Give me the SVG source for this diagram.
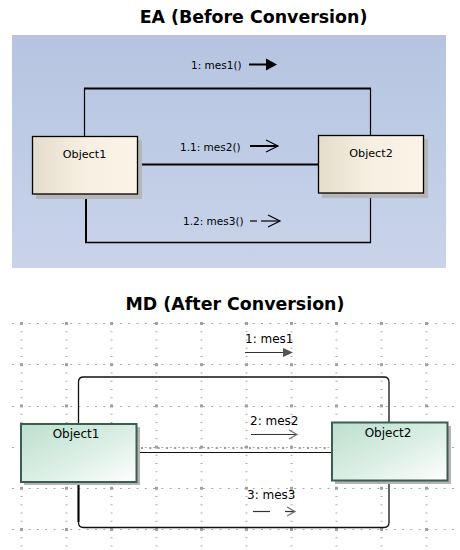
<svg xmlns="http://www.w3.org/2000/svg" width="460" height="550" viewBox="0 0 460 550">
<defs>
<linearGradient id="eaBg" x1="0" y1="0" x2="0" y2="1">
<stop offset="0" stop-color="#b6c4e1"/>
<stop offset="1" stop-color="#c9d4ea"/>
</linearGradient>
<linearGradient id="eaObj" x1="0" y1="0" x2="1" y2="0">
<stop offset="0" stop-color="#e4dccb"/>
<stop offset="0.5" stop-color="#f7efe1"/>
<stop offset="1" stop-color="#fbf3e6"/>
</linearGradient>
<linearGradient id="mdObj" x1="0" y1="0" x2="1" y2="1">
<stop offset="0" stop-color="#bcdfcd"/>
<stop offset="0.55" stop-color="#dcefe6"/>
<stop offset="1" stop-color="#ffffff"/>
</linearGradient>
<pattern id="gridDot" patternUnits="userSpaceOnUse" x="20" y="322" width="45" height="41.2">
<rect x="0" y="0" width="3" height="3" fill="#a0a0a0"/>
</pattern>
</defs>
<style>
.title{font-family:"DejaVu Sans",sans-serif;font-weight:bold;font-size:17.4px;fill:#000;text-anchor:middle}
.ealbl{font-family:"DejaVu Sans",sans-serif;font-size:10.5px;fill:#000}
.eaobjtxt{font-family:"DejaVu Sans",sans-serif;font-size:11.2px;fill:#000;text-anchor:middle}
.mdlbl{font-family:"DejaVu Sans",sans-serif;font-size:12px;fill:#000}
.mdobjtxt{font-family:"DejaVu Sans",sans-serif;font-size:12px;fill:#000;text-anchor:middle}
.eaobj{fill:url(#eaObj);stroke:#000;stroke-width:1.3}
.eashadow{fill:#b6b6b6}
.mdobj{fill:url(#mdObj);stroke:#3b5e50;stroke-width:2}
.mdshadow{fill:#b3b3b3}
.ea{fill:none;stroke:#000}
.gridrow{stroke:#aaaaaa;stroke-width:1;stroke-dasharray:2 6.3}
.gridcol{stroke:#aaaaaa;stroke-width:2;stroke-dasharray:1 7.24}
</style>

<!-- EA (Before Conversion) -->
<g id="ea-panel">
<rect x="12" y="35" width="434" height="233" fill="url(#eaBg)"/>
<text class="title" x="253.5" y="23">EA (Before Conversion)</text>
</g>

<g id="ea-connectors">
<line class="ea" x1="84.5" y1="136" x2="84.5" y2="88.5" stroke-width="1.2"/>
<line class="ea" x1="84" y1="88.5" x2="371" y2="88.5" stroke-width="2"/>
<line class="ea" x1="370.5" y1="88.5" x2="370.5" y2="135" stroke-width="1.2"/>
<line class="ea" x1="138" y1="164.5" x2="318" y2="164.5" stroke-width="2"/>
<line class="ea" x1="86" y1="194" x2="86" y2="243" stroke-width="2"/>
<line class="ea" x1="85" y1="242.5" x2="371" y2="242.5" stroke-width="1.4"/>
<line class="ea" x1="370.5" y1="193" x2="370.5" y2="243" stroke-width="1.2"/>
<text class="ealbl" x="191" y="69">1: mes1()</text>
<line class="ea" x1="249" y1="64.5" x2="268" y2="64.5" stroke-width="2"/>
<path d="M266,58.5 L277,64.5 L266,70.5 Z" fill="#000"/>
<text class="ealbl" x="180" y="150.5">1.1: mes2()</text>
<line class="ea" x1="250" y1="146" x2="278" y2="146" stroke-width="2"/>
<path class="ea" d="M266,140 L278,146 L266,152" stroke-width="1.2"/>
<text class="ealbl" x="183" y="224.5">1.2: mes3()</text>
<line class="ea" x1="250" y1="221" x2="257" y2="221" stroke-width="1.2"/>
<line class="ea" x1="261" y1="221" x2="279" y2="221" stroke-width="1.2"/>
<path class="ea" d="M268,215 L280,221 L268,227" stroke-width="1.2"/>
</g>

<g id="ea-object1">
<rect class="eashadow" x="36" y="140" width="106" height="59"/>
<rect class="eaobj" x="32.5" y="136.5" width="105" height="57.5"/>
<text class="eaobjtxt" x="84.5" y="158">Object1</text>
</g>

<g id="ea-object2">
<rect class="eashadow" x="322" y="139" width="106" height="59"/>
<rect class="eaobj" x="318.5" y="135.5" width="105" height="57.5"/>
<text class="eaobjtxt" x="371" y="157">Object2</text>
</g>

<!-- MD (After Conversion) -->
<g id="md-title">
<text class="title" x="235" y="310">MD (After Conversion)</text>
</g>

<g id="md-grid">
<line class="gridrow" x1="12" y1="323.5" x2="456" y2="323.5"/>
<line class="gridrow" x1="12" y1="364.5" x2="456" y2="364.5"/>
<line class="gridrow" x1="12" y1="406.5" x2="456" y2="406.5"/>
<line class="gridrow" x1="12" y1="447.5" x2="456" y2="447.5"/>
<line class="gridrow" x1="12" y1="488.5" x2="456" y2="488.5"/>
<line class="gridrow" x1="12" y1="529.5" x2="456" y2="529.5"/>
<line x1="141" y1="448" x2="330" y2="448" stroke="#999999" stroke-width="2" stroke-dasharray="2 6.3"/>
<line class="gridcol" x1="21.5" y1="323" x2="21.5" y2="550"/>
<line class="gridcol" x1="66.5" y1="323" x2="66.5" y2="550"/>
<line class="gridcol" x1="111.5" y1="323" x2="111.5" y2="550"/>
<line class="gridcol" x1="156.5" y1="323" x2="156.5" y2="550"/>
<line class="gridcol" x1="201.5" y1="323" x2="201.5" y2="550"/>
<line class="gridcol" x1="246.5" y1="323" x2="246.5" y2="550"/>
<line class="gridcol" x1="291.5" y1="323" x2="291.5" y2="550"/>
<line class="gridcol" x1="336.5" y1="323" x2="336.5" y2="550"/>
<line class="gridcol" x1="381.5" y1="323" x2="381.5" y2="550"/>
<line class="gridcol" x1="426.5" y1="323" x2="426.5" y2="550"/>
<rect x="12" y="320" width="446" height="230" fill="url(#gridDot)"/>
</g>

<g id="md-connectors">
<path d="M78.5,423 V382 Q78.5,377 83.5,377 H384 Q389,377 389,382 V422" fill="none" stroke="#111" stroke-width="1.3"/>
<path d="M78.5,482 V522.5 Q78.5,527.5 83.5,527.5 H384 Q389,527.5 389,522.5 V481" fill="none" stroke="#111" stroke-width="1.3"/>
<line x1="78.5" y1="482" x2="78.5" y2="522" stroke="#000" stroke-width="2"/>
<line x1="137" y1="452.5" x2="332" y2="452.5" stroke="#111" stroke-width="1.2"/>
<text class="mdlbl" x="245" y="343">1: mes1</text>
<line x1="245" y1="352.5" x2="285" y2="352.5" stroke="#333" stroke-width="1.2"/>
<path d="M283,348 L293,352.5 L283,357 Z" fill="#555"/>
<text class="mdlbl" x="250" y="425">2: mes2</text>
<line x1="251" y1="434.5" x2="297" y2="434.5" stroke="#333" stroke-width="1.2"/>
<path d="M289,430 L297,434.5 L289,439" fill="none" stroke="#777" stroke-width="1.3"/>
<text class="mdlbl" x="247" y="499">3: mes3</text>
<line x1="253" y1="511.5" x2="270" y2="511.5" stroke="#333" stroke-width="1.2"/>
<line x1="285" y1="511.5" x2="295" y2="511.5" stroke="#333" stroke-width="1.2"/>
<path d="M287,507 L295,511.5 L287,516" fill="none" stroke="#777" stroke-width="1.3"/>
</g>

<g id="md-object1">
<rect class="mdshadow" x="24" y="427" width="116" height="58"/>
<rect class="mdobj" x="21" y="424" width="115.5" height="58"/>
<text class="mdobjtxt" x="76" y="438">Object1</text>
</g>

<g id="md-object2">
<rect class="mdshadow" x="335" y="426" width="116" height="58"/>
<rect class="mdobj" x="332" y="422.5" width="115.5" height="58"/>
<text class="mdobjtxt" x="388" y="437">Object2</text>
</g>
</svg>
